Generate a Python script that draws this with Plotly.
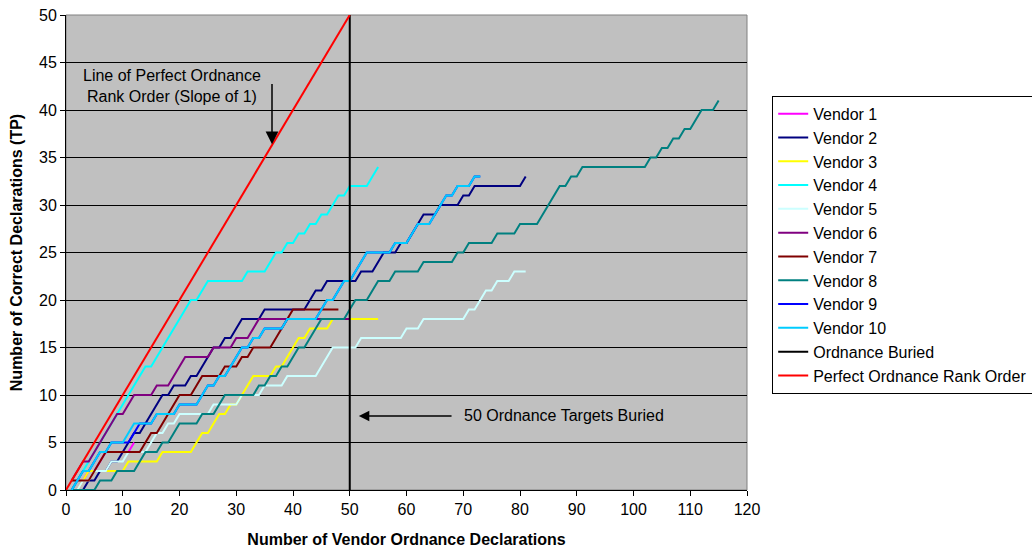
import plotly.graph_objects as go

# ---------------- data ----------------
names = ["Vendor 1", "Vendor 2", "Vendor 3", "Vendor 4", "Vendor 5", "Vendor 6",
         "Vendor 7", "Vendor 8", "Vendor 9", "Vendor 10"]
colors = ["#FF00FF", "#000080", "#FFFF00", "#00FFFF", "#CCFFFF", "#800080",
          "#800000", "#008080", "#0000FF", "#00CCFF"]

# first declaration number of each vendor curve
starts = [2, 1, 1, 1, 1, 1, 1, 1, 1, 1]

v1 = [0, 1, 2, 2, 3, 4, 4, 4, 4, 4, 5]
v2 = [0, 0, 0, 1, 1, 2, 2, 3, 3, 4, 5, 6, 6, 7, 8, 9, 10, 10, 11, 11,
      11, 12, 12, 13, 14, 15, 15, 16, 16, 17, 18, 18, 18, 18, 19, 19, 19, 19, 19, 19,
      19, 19, 20, 21, 21, 22, 22, 22, 22, 22, 22, 23, 23, 23, 24, 25, 25, 25, 26, 26,
      27, 28, 29, 29, 29, 30, 30, 30, 30, 31, 31, 32, 32, 32, 32, 32, 32, 32, 32, 32, 33]
v3 = [0, 0, 1, 2, 2, 2, 2, 2, 2, 2, 3, 3, 3, 3, 3, 3, 4, 4, 4, 4,
      4, 4, 5, 6, 6, 7, 8, 8, 9, 9, 10, 11, 12, 12, 12, 12, 13, 13, 14, 15,
      16, 16, 17, 17, 17, 17, 18, 18, 18, 18, 18, 18, 18, 18, 18]
v4 = [0, 1, 2, 3, 4, 5, 6, 7, 8, 9, 10, 11, 12, 13, 13, 14, 15, 16, 17, 18,
      19, 20, 20, 21, 22, 22, 22, 22, 22, 22, 22, 23, 23, 23, 23, 24, 25, 25, 26, 26,
      27, 27, 28, 28, 29, 29, 30, 31, 31, 32, 32, 32, 32, 33, 34]
v5 = [0, 0, 1, 1, 2, 2, 2, 3, 3, 3, 4, 4, 4, 4, 5, 6, 6, 7, 7, 8,
      8, 8, 8, 8, 8, 9, 9, 9, 9, 9, 10, 10, 10, 10, 11, 11, 11, 11, 12, 12,
      12, 12, 12, 12, 13, 14, 15, 15, 15, 15, 15, 16, 16, 16, 16, 16, 16, 16, 16, 17,
      17, 17, 18, 18, 18, 18, 18, 18, 18, 18, 19, 19, 20, 21, 21, 22, 22, 22, 23, 23, 23]
v6 = [1, 2, 3, 3, 4, 5, 6, 7, 8, 8, 9, 10, 10, 10, 10, 11, 11, 11, 12, 13,
      14, 14, 14, 14, 14, 15, 15, 15, 15, 16, 16, 16, 17, 18, 18, 18, 18, 18, 18, 18,
      18, 18, 18, 18, 18, 18, 18, 18, 18, 18]
v7 = [1, 1, 1, 1, 2, 3, 4, 4, 4, 4, 4, 4, 4, 5, 6, 6, 7, 8, 9, 10,
      10, 10, 11, 12, 12, 12, 12, 13, 13, 13, 14, 14, 15, 15, 15, 15, 16, 17, 18, 19,
      19, 19, 19, 19, 19, 19, 19, 19]
v8 = [0, 0, 0, 0, 0, 1, 1, 1, 2, 2, 2, 2, 3, 4, 4, 4, 5, 5, 6, 7,
      7, 7, 7, 8, 8, 8, 9, 10, 10, 10, 10, 10, 10, 11, 11, 12, 12, 13, 13, 14,
      15, 15, 16, 17, 18, 18, 18, 18, 18, 19, 20, 20, 20, 21, 22, 22, 22, 23, 23, 23,
      23, 23, 24, 24, 24, 24, 24, 24, 25, 25, 26, 26, 26, 26, 26, 27, 27, 27, 27, 28,
      28, 28, 28, 29, 30, 31, 32, 32, 33, 33, 34, 34, 34, 34, 34, 34, 34, 34, 34, 34,
      34, 34, 35, 35, 36, 36, 37, 37, 38, 38, 39, 40, 40, 40, 41]
v9 = [0, 1, 2, 2, 3, 4, 4, 5, 5, 5, 5, 6, 7, 7, 7, 8, 8, 8, 8, 9,
      9, 9, 9, 10, 11, 11, 12, 12, 13, 14, 15, 15, 16, 16, 17, 17, 17, 17, 18, 18,
      18, 18, 18, 18, 19, 20, 20, 21, 22, 22, 23, 24, 25, 25, 25, 25, 25, 26, 26, 26,
      27, 28, 28, 28, 29, 30, 31, 31, 32, 32, 32, 33, 33]
v10 = [0, 1, 2, 2, 3, 4, 4, 5, 5, 5, 6, 7, 7, 7, 7, 8, 8, 8, 8, 9,
       9, 9, 9, 10, 11, 11, 12, 12, 13, 14, 15, 15, 16, 16, 17, 17, 17, 17, 18, 18,
       18, 18, 18, 18, 19, 20, 20, 21, 22, 22, 23, 24, 25, 25, 25, 25, 25, 26, 26, 26,
       27, 28, 28, 28, 29, 30, 31, 31, 32, 32, 32, 33, 33]
vendor_values = [v1, v2, v3, v4, v5, v6, v7, v8, v9, v10]

buried_x = [50, 50]
buried_y = [0, 50]
perfect_x = [0, 50]
perfect_y = [0, 50]

x_ticks = list(range(0, 121, 10))
y_ticks = list(range(0, 51, 5))

# ---------------- figure ----------------
FONT = "Arial, Liberation Sans, sans-serif"
FS = 16
fig = go.Figure()

for name, col, st, vals in zip(names, colors, starts, vendor_values):
    xs = list(range(st, st + len(vals)))
    fig.add_trace(go.Scatter(x=xs, y=vals, mode="lines", name=name,
                             line=dict(color=col, width=2)))

fig.add_trace(go.Scatter(x=buried_x, y=buried_y, mode="lines", name="Ordnance Buried",
                         line=dict(color="#000000", width=2)))
fig.add_trace(go.Scatter(x=perfect_x, y=perfect_y, mode="lines",
                         name="Perfect Ordnance Rank Order",
                         line=dict(color="#FF0000", width=2)))

fig.update_layout(
    width=1032, height=550,
    margin=dict(l=66, r=285, t=15, b=60, autoexpand=False),
    paper_bgcolor="white",
    plot_bgcolor="#C0C0C0",
    font=dict(family=FONT, size=FS, color="black"),
    showlegend=True,
    legend=dict(x=1.037, y=0.83, xanchor="left", yanchor="top",
                bgcolor="white", bordercolor="black", borderwidth=1,
                font=dict(family=FONT, size=FS, color="black"),
                traceorder="normal"),
    xaxis=dict(range=[0, 120], tickvals=x_ticks, showgrid=False, zeroline=False,
               showline=True, linecolor="black", linewidth=1, automargin=False,
               ticks="outside", ticklen=5, tickcolor="black",
               tickfont=dict(size=FS),
               title=dict(text="Number of Vendor Ordnance Declarations",
                          font=dict(size=FS, weight="bold"), standoff=16)),
    yaxis=dict(range=[0, 50], tickvals=y_ticks, showgrid=True, gridcolor="black",
               gridwidth=1, zeroline=False, automargin=False,
               showline=True, linecolor="black", linewidth=1,
               ticks="outside", ticklen=5, tickcolor="black",
               tickfont=dict(size=FS),
               title=dict(text="Number of Correct Declarations (TP)",
                          font=dict(size=FS, weight="bold"), standoff=12)),
    shapes=[dict(type="rect", xref="paper", yref="paper", x0=0, y0=0, x1=1, y1=1,
                 line=dict(color="#808080", width=1), layer="below")],
)

fig.add_annotation(x=18.6, y=42.5, xref="x", yref="y",
                   text="Line of Perfect Ordnance<br>Rank Order (Slope of 1)",
                   showarrow=False, font=dict(size=FS), align="center")
fig.add_annotation(x=36.3, y=36.4, ax=36.3, ay=42.9, xref="x", yref="y",
                   axref="x", ayref="y", text="", showarrow=True,
                   arrowhead=2, arrowsize=1.7, arrowwidth=1.5, arrowcolor="black")
fig.add_annotation(x=69.8, y=7.8, xref="x", yref="y", xanchor="left",
                   text="50 Ordnance Targets Buried", showarrow=False,
                   font=dict(size=FS))
fig.add_annotation(x=51.6, y=7.8, ax=68.2, ay=7.8, xref="x", yref="y",
                   axref="x", ayref="y", text="", showarrow=True,
                   arrowhead=2, arrowsize=1.4, arrowwidth=1.5, arrowcolor="black")

fig.write_html("out.html", config={"displayModeBar": False},
               post_script="document.body.style.margin='0';document.body.style.padding='0';")
